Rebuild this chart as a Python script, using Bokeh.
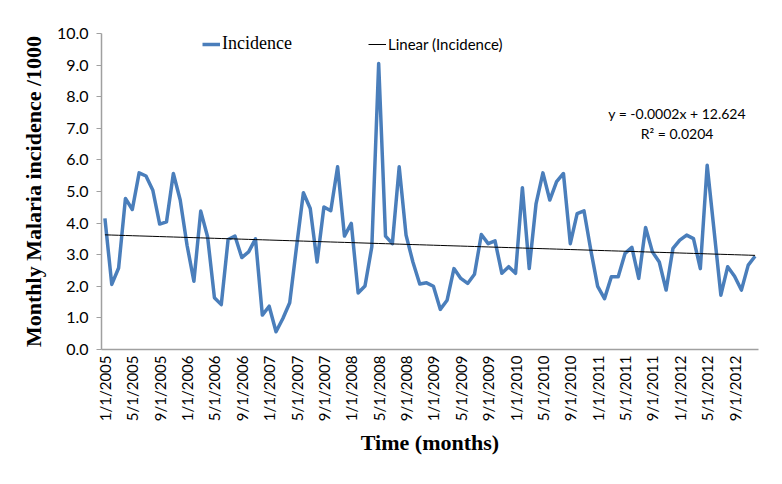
import numpy as np
from bokeh.plotting import figure
from bokeh.models import Range1d, FixedTicker, Legend, LegendItem, Label
from bokeh.embed import file_html
from bokeh.resources import INLINE

# Monthly malaria incidence per 1000, Jan 2005 .. Dec 2012
months = list(range(96))
incidence = [
    4.15, 2.06, 2.58, 4.78, 4.43, 5.59, 5.49, 5.04, 3.97, 4.04, 5.57, 4.73,
    3.30, 2.16, 4.38, 3.57, 1.64, 1.42, 3.48, 3.59, 2.91, 3.09, 3.50, 1.09,
    1.37, 0.56, 0.98, 1.48, 3.25, 4.96, 4.46, 2.77, 4.51, 4.39, 5.78, 3.59,
    3.99, 1.79, 2.01, 3.25, 9.05, 3.59, 3.35, 5.78, 3.62, 2.77, 2.07, 2.11,
    2.00, 1.27, 1.56, 2.56, 2.25, 2.09, 2.38, 3.64, 3.35, 3.44, 2.41, 2.62,
    2.41, 5.12, 2.56, 4.62, 5.59, 4.73, 5.31, 5.57, 3.35, 4.30, 4.39, 3.14,
    2.00, 1.61, 2.30, 2.30, 3.04, 3.23, 2.25, 3.86, 3.09, 2.77, 1.88, 3.20,
    3.46, 3.62, 3.51, 2.56, 5.83, 3.78, 1.72, 2.62, 2.32, 1.88, 2.67, 2.95,
]
tick_positions = [0, 4, 8, 12, 16, 20, 24, 28, 32, 36, 40, 44, 48, 52, 56, 60,
                  64, 68, 72, 76, 80, 84, 88, 92]
tick_labels = ["1/1/2005", "5/1/2005", "9/1/2005", "1/1/2006", "5/1/2006", "9/1/2006",
               "1/1/2007", "5/1/2007", "9/1/2007", "1/1/2008", "5/1/2008", "9/1/2008",
               "1/1/2009", "5/1/2009", "9/1/2009", "1/1/2010", "5/1/2010", "9/1/2010",
               "1/1/2011", "5/1/2011", "9/1/2011", "1/1/2012", "5/1/2012", "9/1/2012"]
y_ticks = [0, 1, 2, 3, 4, 5, 6, 7, 8, 9, 10]
equation_text = "y = -0.0002x + 12.624"
r2_text = "R\u00b2 = 0.0204"

SERIF = "Liberation Serif"
SANS = "Lato"

p = figure(width=774, height=476, output_backend="svg", toolbar_location=None,
           x_range=Range1d(-0.5, 95.5), y_range=Range1d(0, 10),
           min_border_left=101, min_border_right=16, min_border_top=33,
           min_border_bottom=127)
p.outline_line_color = None
p.xgrid.grid_line_color = None
p.ygrid.grid_line_color = None
p.background_fill_color = "white"
p.border_fill_color = "white"

# data line
r_inc = p.line(months, incidence, line_color="#4A7EBB", line_width=3.5,
               line_join="round")

# linear trend computed from the data
coef = np.polyfit(months, incidence, 1)
trend = list(np.polyval(coef, months))
r_trend = p.line(months, trend, line_color="black", line_width=1)

# axes
xa = p.xaxis[0]
xa.ticker = FixedTicker(ticks=tick_positions)
xa.major_label_overrides = {t: l for t, l in zip(tick_positions, tick_labels)}
xa.major_label_orientation = np.pi / 2
xa.major_label_text_font = SANS
xa.major_label_text_font_size = "15px"
xa.major_label_text_color = "black"
xa.major_label_standoff = 6
xa.major_tick_out = 0
xa.major_tick_in = 0
xa.minor_tick_out = 0
xa.minor_tick_in = 0
xa.axis_line_color = "#A0A0A0"
xa.axis_line_width = 1.5
xa.axis_label = "Time (months)"
xa.axis_label_text_font = SERIF
xa.axis_label_text_font_style = "bold"
xa.axis_label_text_font_size = "22px"
xa.axis_label_text_color = "black"
xa.axis_label_standoff = 6

ya = p.yaxis[0]
ya.ticker = FixedTicker(ticks=y_ticks)
ya.major_label_overrides = {t: f"{t:.1f}" for t in y_ticks}
ya.major_label_text_font = SANS
ya.major_label_text_font_size = "16px"
ya.major_label_text_color = "black"
ya.major_label_standoff = 8
ya.major_tick_out = 5
ya.major_tick_in = 0
ya.minor_tick_out = 0
ya.minor_tick_in = 0
ya.major_tick_line_color = "#A0A0A0"
ya.axis_line_color = "#A0A0A0"
ya.axis_line_width = 1.5
ya.axis_label = "Monthly Malaria incidence /1000"
ya.axis_label_text_font = SERIF
ya.axis_label_text_font_style = "bold"
ya.axis_label_text_font_size = "22px"
ya.axis_label_text_color = "black"
ya.axis_label_standoff = 8

# legends
leg1 = Legend(items=[LegendItem(label="Incidence", renderers=[r_inc])],
              location=(101, 295), padding=0, margin=0, spacing=0,
              glyph_width=18, glyph_height=20, label_height=20,
              label_standoff=2, border_line_alpha=0, background_fill_alpha=0,
              label_text_font=SERIF, label_text_font_size="18px",
              label_text_color="black")
leg2 = Legend(items=[LegendItem(label="Linear (Incidence)", renderers=[r_trend])],
              location=(267, 295), padding=0, margin=0, spacing=0,
              glyph_width=18, glyph_height=20, label_height=20,
              label_standoff=2, border_line_alpha=0, background_fill_alpha=0,
              label_text_font=SANS, label_text_font_size="15px",
              label_text_color="black")
p.add_layout(leg1, "center")
p.add_layout(leg2, "center")

# trend equation
p.add_layout(Label(x=83.6, y=7.48, text=equation_text, text_align="center",
                   text_baseline="middle", text_font=SANS,
                   text_font_size="14px", text_color="black"))
p.add_layout(Label(x=83.6, y=6.84, text=r2_text, text_align="center",
                   text_baseline="middle", text_font=SANS,
                   text_font_size="14px", text_color="black"))

open("out.html", "w").write(file_html(p, INLINE))
